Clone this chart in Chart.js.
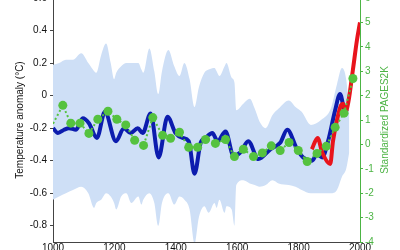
<!DOCTYPE html>
<html><head><meta charset="utf-8">
<script src="https://cdn.jsdelivr.net/npm/chart.js@4"></script>
<style>
html,body{margin:0;padding:0;background:#fff;overflow:hidden;width:400px;height:250px;}
#wrap{position:absolute;left:0;top:-20px;width:400px;height:280px;}
canvas{display:block;}
</style></head><body>
<div id="wrap"><canvas id="c" width="400" height="280" style="width:400px;height:280px"></canvas></div>
<script>
// Reconstruction (blue, °C)
const reconYears=[1000,1016,1036,1052,1075,1097,1117,1143,1169,1205,1231,1253,1276,1292,1318,1344,1373,1399,1422,1442,1461,1481,1497,1519,1536,1562,1588,1610,1636,1669,1708,1740,1763,1795,1815,1844,1860,1877,1896,1919,1935,1948,1958];
const reconValues=[-0.2,-0.23,-0.21,-0.2,-0.21,-0.14,-0.17,-0.26,-0.1,-0.28,-0.2,-0.23,-0.2,-0.23,-0.11,-0.38,-0.13,-0.23,-0.26,-0.28,-0.48,-0.29,-0.26,-0.23,-0.28,-0.22,-0.37,-0.35,-0.28,-0.39,-0.33,-0.29,-0.21,-0.33,-0.38,-0.4,-0.36,-0.38,-0.28,-0.09,0.01,-0.08,-0.1];
// Instrumental (red, °C)
const instYears=[1843,1862,1877,1903,1912,1925,1938,1945,1953,1962,1977,1990,2000];
const instValues=[-0.33,-0.26,-0.35,-0.42,-0.28,-0.15,-0.06,-0.05,-0.1,-0.04,0.16,0.34,0.45];
// Standardized PAGES2K (green, right axis)
const pagesYears=[1000,1032,1058,1088,1117,1146,1179,1208,1237,1266,1295,1325,1357,1383,1412,1442,1471,1497,1529,1562,1591,1620,1653,1682,1711,1740,1769,1799,1828,1860,1890,1919,1948,1977];
const pagesValues=[0.85,1.6,0.87,0.87,0.45,1.03,1.36,1.03,0.8,0.17,-0.04,1.1,0.37,0.25,0.5,-0.12,-0.12,0.2,0.04,0.2,-0.5,-0.2,-0.5,-0.35,-0.06,-0.25,0.08,-0.25,-0.7,-0.37,-0.08,0.7,1.28,2.7];
// Uncertainty band (°C)
const bandYears=[1000,1020,1042,1065,1092,1115,1134,1141,1157,1173,1188,1199,1206,1222,1239,1255,1278,1288,1294,1314,1330,1343,1355,1376,1395,1412,1428,1445,1461,1475,1493,1507,1526,1533,1542,1559,1565,1582,1591,1597,1620,1641,1657,1673,1693,1715,1735,1768,1790,1810,1840,1873,1905,1925,1941,1955,1965];
const bandUpper=[0.19,0.2,0.22,0.22,0.26,0.2,0.15,0.14,0.25,0.32,0.2,0.1,0.14,0.18,0.2,0.2,0.2,0.16,0.14,0.29,0.15,0.01,0.15,0.28,0.18,0.12,0.2,0.1,-0.07,0.05,0.14,0.16,0.17,0.15,0.12,0.18,0.2,0.11,0.08,-0.09,-0.05,-0.02,-0.08,-0.16,-0.2,-0.12,-0.08,-0.03,-0.07,-0.1,-0.18,-0.15,-0.08,0.07,0.17,0.1,-0.1];
const bandLower=[-0.64,-0.62,-0.6,-0.58,-0.56,-0.6,-0.69,-0.66,-0.64,-0.6,-0.62,-0.66,-0.7,-0.62,-0.6,-0.66,-0.62,-0.67,-0.64,-0.6,-0.66,-0.8,-0.66,-0.6,-0.67,-0.62,-0.64,-0.7,-0.91,-0.75,-0.68,-0.72,-0.66,-0.69,-0.64,-0.72,-0.68,-0.7,-0.8,-0.55,-0.52,-0.54,-0.55,-0.56,-0.55,-0.52,-0.54,-0.55,-0.56,-0.58,-0.6,-0.6,-0.6,-0.58,-0.5,-0.45,-0.35];
// Ticks
const xTicks=[1000,1200,1400,1600,1800,2000];
const leftTicks=[-0.8,-0.6,-0.4,-0.2,0,0.2,0.4,0.6];
const rightTicks=[-4,-3,-2,-1,0,1,2,3,4,5,6];
const rightTitle='Standardized PAGES2K';

const pts=(xs,ys)=>xs.map((x,i)=>({x:x,y:ys[i]}));
const GREEN='#55c23f', GREEN_TXT='#4cb444', BAND='#cedff6';
const font={family:'"Liberation Sans", Arial, sans-serif',size:10};

const rightTitlePlugin={
  id:'rightTitle',
  afterDraw(chart){
    const ctx=chart.ctx, a=chart.chartArea;
    ctx.save();
    ctx.translate(385,(a.top+a.bottom)/2);
    ctx.rotate(-Math.PI/2);
    ctx.font='10px "Liberation Sans", Arial, sans-serif';
    ctx.fillStyle=GREEN_TXT;
    ctx.textAlign='center';
    ctx.textBaseline='middle';
    ctx.fillText(rightTitle,0,0);
    ctx.restore();
  }
};

new Chart(document.getElementById('c'),{
  type:'line',
  data:{datasets:[
    {label:'PAGES2K',data:pts(pagesYears,pagesValues),yAxisID:'y2',borderColor:GREEN,borderWidth:2,borderDash:[2,2.5],
     pointRadius:c=>c.dataIndex===0?0:4.5,pointBackgroundColor:GREEN,pointBorderWidth:0,tension:0,fill:false},
    {label:'Instrumental',data:pts(instYears,instValues),yAxisID:'y',borderColor:'#e8141c',borderWidth:4,pointRadius:0,cubicInterpolationMode:'monotone',fill:false},
    {label:'Reconstruction',data:pts(reconYears,reconValues),yAxisID:'y',borderColor:'#0c1cae',borderWidth:4,pointRadius:0,cubicInterpolationMode:'monotone',fill:false},
    {label:'upper',data:pts(bandYears,bandUpper),yAxisID:'y',borderWidth:0,borderColor:BAND,backgroundColor:BAND,pointRadius:0,cubicInterpolationMode:'monotone',fill:'+1'},
    {label:'lower',data:pts(bandYears,bandLower),yAxisID:'y',borderWidth:0,borderColor:BAND,pointRadius:0,cubicInterpolationMode:'monotone',fill:false}
  ]},
  options:{
    responsive:false,animation:false,devicePixelRatio:1,
    layout:{padding:{top:18,left:0,right:0,bottom:0}},
    plugins:{legend:{display:false},tooltip:{enabled:false}},
    scales:{
      x:{type:'linear',min:1000,max:2000,
        afterBuildTicks:s=>{s.ticks=xTicks.map(v=>({value:v}));},
        afterFit:s=>{s.height=18;},
        ticks:{font:font,color:'#111',padding:0,autoSkip:false,maxRotation:0,callback:v=>String(v)},
        grid:{drawOnChartArea:false,drawTicks:true,tickLength:0,color:'#444'},
        border:{color:'#444',width:1}},
      y:{position:'left',min:-0.9,max:0.6,
        afterBuildTicks:s=>{s.ticks=leftTicks.map(v=>({value:v}));},
        afterFit:s=>{s.width=53;},
        ticks:{font:font,color:'#111',padding:3,autoSkip:false,callback:v=>v===0?'0':v.toFixed(1)},
        grid:{drawOnChartArea:false,tickLength:3,color:'#444'},
        border:{color:'#444',width:1},
        title:{display:true,text:'Temperature anomaly (°C)',font:font,color:'#111',padding:{top:14,bottom:0}}},
      y2:{position:'right',min:-4,max:6,
        afterBuildTicks:s=>{s.ticks=rightTicks.map(v=>({value:v}));},
        afterFit:s=>{s.width=40;},
        ticks:{font:font,color:GREEN_TXT,padding:2,autoSkip:false},
        grid:{drawOnChartArea:false,tickLength:3,color:GREEN_TXT},
        border:{color:GREEN_TXT,width:1},
        title:{display:false}}
    }
  },
  plugins:[rightTitlePlugin]
});
</script>
</body></html>
